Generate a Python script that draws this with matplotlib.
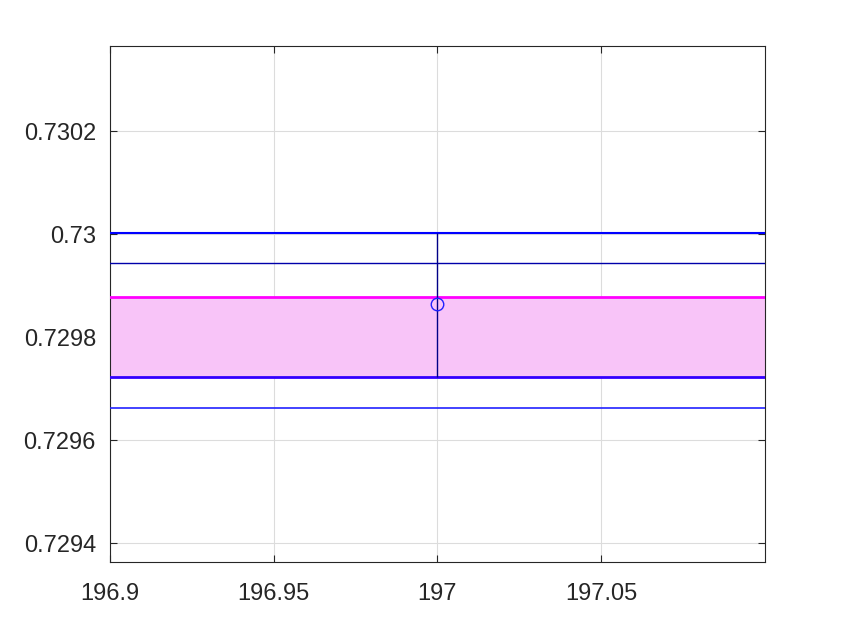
import numpy as np
import matplotlib
matplotlib.use('Agg')
import matplotlib.pyplot as plt

# values
x_lim = [196.9, 197.1]
y_lim = [0.729363, 0.730365]
x_ticks = [196.9, 196.95, 197, 197.05]
x_labels = ['196.9', '196.95', '197', '197.05']
y_ticks = [0.7294, 0.7296, 0.7298, 0.73, 0.7302]
y_labels = ['0.7294', '0.7296', '0.7298', '0.73', '0.7302']

x_point = 197.0
y_point = 0.729864
err_low = 0.729722
err_high = 0.730002

band_low = 0.729722
band_high = 0.729878
line_upper = 0.730002
line_mid = 0.729944
line_lower = 0.729662

fig = plt.figure(figsize=(8.45, 6.31), dpi=100)
ax = fig.add_axes([0.130, 0.109, 0.775, 0.818])

xs = np.array(x_lim)
ax.fill_between(xs, band_low, band_high, color='#f8c4f8', linewidth=0, zorder=1)
ax.plot(xs, [band_high, band_high], color='#ff00ff', linewidth=2, zorder=3)
ax.plot(xs, [band_low, band_low], color='#3300ff', linewidth=2, zorder=3)
ax.plot(xs, [line_upper, line_upper], color='#0000ff', linewidth=1.5, zorder=3)
ax.plot(xs, [line_mid, line_mid], color='#0000aa', linewidth=1, zorder=3)
ax.plot(xs, [line_lower, line_lower], color='#2222ff', linewidth=1.2, zorder=3)

ax.errorbar([x_point], [y_point],
            yerr=[[y_point - err_low], [err_high - y_point]],
            fmt='o', mfc='none', mec='#2020ff', ms=9, mew=1,
            ecolor='#000088', elinewidth=1, capsize=0, zorder=4)

ax.set_xlim(x_lim)
ax.set_ylim(y_lim)
ax.set_xticks(x_ticks)
ax.set_xticklabels(x_labels, family=['Liberation Sans Narrow', 'Liberation Sans'], fontsize=17)
ax.set_yticks(y_ticks)
ax.set_yticklabels(y_labels, family=['Liberation Sans', 'DejaVu Sans'], fontsize=17)

ax.grid(True, color='#dcdcdc', linewidth=0.8, zorder=0)
ax.set_axisbelow(True)
ax.tick_params(direction='in', length=5, width=0.8, colors='#262626',
               top=True, right=True)
ax.tick_params(axis='x', pad=15)
ax.tick_params(axis='y', pad=10)
for s in ax.spines.values():
    s.set_color('#262626')
    s.set_linewidth(0.8)

fig.savefig('out.png', dpi=100)
